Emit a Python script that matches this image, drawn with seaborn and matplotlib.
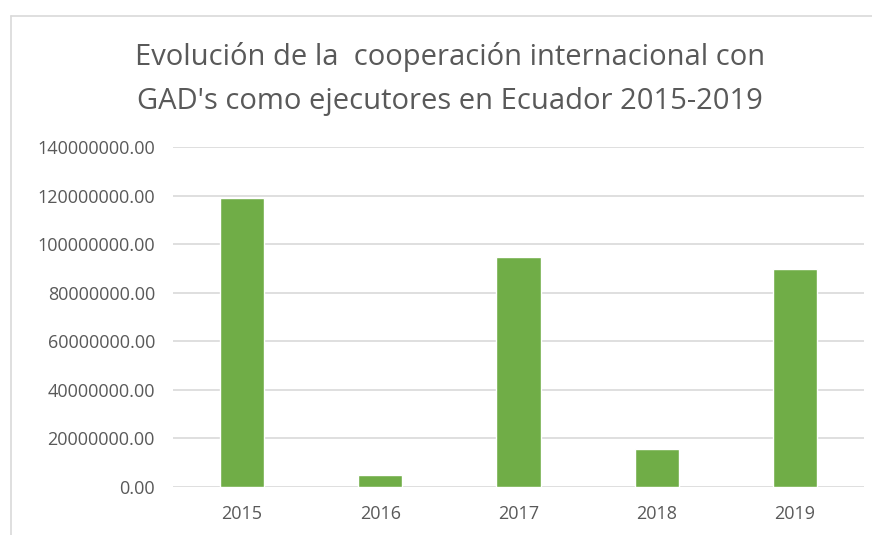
import numpy as np
import pandas as pd
import matplotlib
matplotlib.use("Agg")
import matplotlib.pyplot as plt
import seaborn as sns
from matplotlib.lines import Line2D
from matplotlib.ticker import FuncFormatter

# Values
years = ["2015", "2016", "2017", "2018", "2019"]
amounts = [119000000, 4900000, 94700000, 15500000, 89600000]

datos = pd.DataFrame({"anio": years, "monto": amounts})

sns.set_style("white")
plt.rcParams["font.family"] = ["Open Sans", "DejaVu Sans"]

texto = "#595959"
rejilla = "#D9D9D9"

fig = plt.figure(figsize=(8.72, 5.35), dpi=100)
ax = fig.add_axes([173 / 872, 48 / 535, 691 / 872, 340 / 535])

sns.barplot(data=datos, x="anio", y="monto", color="#70AD47", width=0.32,
            saturation=1, ax=ax, zorder=3)

ax.set_ylim(0, 140000000)
ax.set_yticks(np.arange(0, 140000001, 20000000))
ax.yaxis.set_major_formatter(FuncFormatter(lambda v, p: f"{v:.2f}"))
ax.grid(axis="y", color=rejilla, linewidth=1.2, zorder=0)
ax.set_axisbelow(True)
for s in ax.spines.values():
    s.set_visible(False)
ax.tick_params(axis="both", length=0, colors=texto, labelsize=13)
ax.tick_params(axis="y", pad=13)
ax.tick_params(axis="x", pad=13)
ax.set_xlabel("")
ax.set_ylabel("")

fig.text(450 / 872, 1 - 79 / 535,
         "Evolución de la  cooperación internacional con\nGAD's como ejecutores en Ecuador 2015-2019",
         ha="center", va="center", fontsize=21, color=texto, linespacing=1.65)

# chart area border (left and top edges visible in the reference)
fig.add_artist(Line2D([11 / 872, 11 / 872], [0, 1 - 16 / 535],
                      transform=fig.transFigure, color=rejilla, linewidth=1.2))
fig.add_artist(Line2D([11 / 872, 1], [1 - 16 / 535, 1 - 16 / 535],
                      transform=fig.transFigure, color=rejilla, linewidth=1.2))

fig.savefig("out.png", dpi=100)
